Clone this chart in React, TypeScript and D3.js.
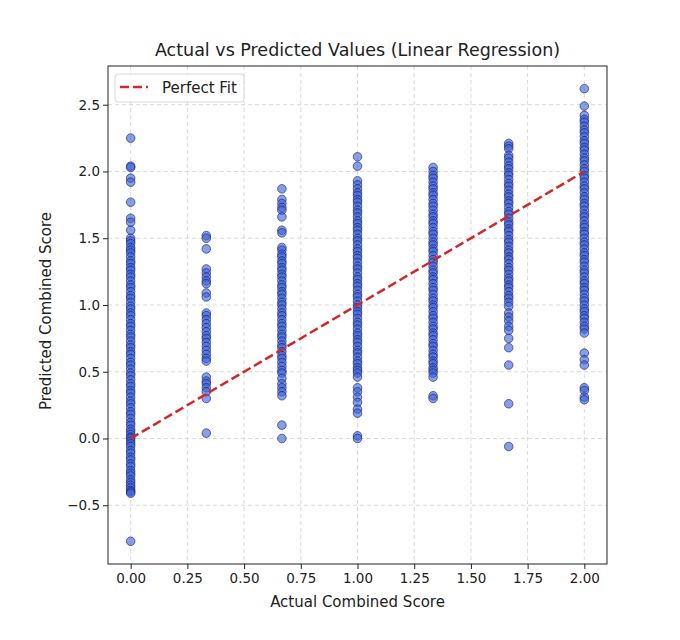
import { useEffect, useRef } from "react";
import * as d3 from "d3";

// actual score levels (x positions of the columns)
const actualLevels = [0, 1 / 3, 2 / 3, 1, 4 / 3, 5 / 3, 2];

// predicted values, top to bottom
const predAt0 = [
  2.25, 2.04, 2.03, 1.95, 1.92, 1.77, 1.65, 1.62, 1.56, 1.5,
  1.48, 1.46, 1.43, 1.41, 1.39, 1.36, 1.33, 1.31, 1.28, 1.26, 1.23, 1.21, 1.18, 1.15, 1.13,
  1.1, 1.07, 1.05, 1.02, 0.99, 0.97, 0.94, 0.92, 0.89, 0.86, 0.84, 0.81, 0.78, 0.76, 0.73,
  0.7, 0.68, 0.65, 0.63, 0.6, 0.57, 0.55, 0.52, 0.49, 0.47, 0.44, 0.41, 0.39, 0.36, 0.34,
  0.31, 0.28, 0.26, 0.23, 0.2, 0.18, 0.15, 0.12, 0.1, 0.07, 0.05, 0.03, 0.01, 0.0, -0.02,
  -0.04, -0.06, -0.09, -0.11, -0.14, -0.16, -0.19, -0.21, -0.24, -0.26, -0.28, -0.31,
  -0.33, -0.35, -0.37, -0.39, -0.4, -0.41, -0.77,
];
const predAt033 = [
  1.52, 1.5, 1.42, 1.27, 1.24, 1.21, 1.18, 1.16, 1.09, 1.06, 0.94, 0.92, 0.89, 0.86, 0.83,
  0.8, 0.77, 0.75, 0.72, 0.69, 0.66, 0.63, 0.6, 0.58, 0.46, 0.43, 0.41, 0.38, 0.35, 0.3, 0.04,
];
const predAt067 = [
  1.87, 1.79, 1.76, 1.73, 1.71, 1.66, 1.56, 1.54,
  1.43, 1.41, 1.38, 1.36, 1.33, 1.31, 1.28, 1.26, 1.23, 1.21, 1.18, 1.15, 1.13, 1.1, 1.08,
  1.05, 1.02, 1.0, 0.97, 0.94, 0.92, 0.89, 0.86, 0.84, 0.81, 0.78, 0.76, 0.73, 0.7, 0.68,
  0.65, 0.62, 0.6, 0.57, 0.54, 0.51, 0.49, 0.45, 0.41, 0.38, 0.35, 0.32, 0.1, 0.0,
];
const predAt1 = [
  2.11, 2.04, 1.93, 1.9, 1.87, 1.84,
  1.82, 1.79, 1.77, 1.74, 1.71, 1.69, 1.66, 1.63, 1.61, 1.58, 1.56, 1.53, 1.5, 1.48, 1.45,
  1.42, 1.4, 1.37, 1.35, 1.32, 1.29, 1.27, 1.24, 1.21, 1.19, 1.16, 1.14, 1.11, 1.08, 1.06,
  1.03, 1.0, 0.98, 0.95, 0.93, 0.9, 0.87, 0.85, 0.82, 0.79, 0.77, 0.74, 0.72, 0.69, 0.66,
  0.64, 0.61, 0.58, 0.56, 0.53, 0.51, 0.49, 0.46, 0.38, 0.35, 0.31, 0.27, 0.22, 0.19, 0.02,
  0.0,
];
const predAt133 = [
  2.03, 2.0, 1.97, 1.95, 1.92, 1.89, 1.87, 1.84, 1.82, 1.79, 1.76, 1.74, 1.71, 1.68, 1.66,
  1.63, 1.61, 1.58, 1.55, 1.53, 1.5, 1.47, 1.45, 1.42, 1.4, 1.37, 1.34, 1.32, 1.29, 1.26,
  1.24, 1.21, 1.19, 1.16, 1.13, 1.11, 1.08, 1.05, 1.03, 1.0, 0.98, 0.95, 0.92, 0.9, 0.87,
  0.84, 0.82, 0.79, 0.77, 0.74, 0.71, 0.69, 0.66, 0.63, 0.61, 0.58, 0.56, 0.53, 0.51, 0.49,
  0.46, 0.32, 0.3,
];
const predAt167 = [
  2.21, 2.19, 2.17, 2.12, 2.1, 2.07, 2.04, 2.02, 1.99, 1.97, 1.94, 1.91, 1.89, 1.86, 1.83,
  1.81, 1.78, 1.76, 1.73, 1.7, 1.68, 1.65, 1.62, 1.6, 1.57, 1.55, 1.52, 1.49, 1.47, 1.44,
  1.41, 1.39, 1.36, 1.34, 1.31, 1.28, 1.26, 1.23, 1.2, 1.18, 1.15, 1.13, 1.1, 1.07, 1.05,
  1.02, 0.99, 0.94, 0.91, 0.88, 0.84, 0.81, 0.75, 0.68, 0.55, 0.26, -0.06,
];
const predAt2 = [
  2.62, 2.49, 2.42, 2.39, 2.37, 2.34, 2.31, 2.29, 2.26, 2.23, 2.21, 2.18, 2.16, 2.13, 2.1,
  2.08, 2.05, 2.02, 2.0, 1.97, 1.95, 1.92, 1.89, 1.87, 1.84, 1.81, 1.79, 1.76, 1.74, 1.71,
  1.68, 1.66, 1.63, 1.6, 1.58, 1.55, 1.53, 1.5, 1.47, 1.45, 1.42, 1.39, 1.37, 1.34, 1.32,
  1.29, 1.26, 1.24, 1.21, 1.18, 1.16, 1.13, 1.11, 1.08, 1.05, 1.03, 1.0, 0.97, 0.95, 0.92,
  0.9, 0.87, 0.84, 0.82, 0.79, 0.64, 0.59, 0.55, 0.38, 0.36, 0.31, 0.29,
];

const predByLevel = [predAt0, predAt033, predAt067, predAt1, predAt133, predAt167, predAt2];

const xTicks = [0, 0.25, 0.5, 0.75, 1, 1.25, 1.5, 1.75, 2];
const yTicks = [-0.5, 0, 0.5, 1, 1.5, 2, 2.5];
const fitLine = [0, 2];

const FONT = "'DejaVu Sans', Verdana, sans-serif";

export default function App() {
  const ref = useRef<SVGSVGElement | null>(null);

  useEffect(() => {
    if (!ref.current) return;
    const W = 680;
    const H = 640;
    const left = 108;
    const right = 607;
    const top = 66;
    const bottom = 564;

    const svg = d3.select(ref.current).html("").attr("width", W).attr("height", H);
    svg.append("rect").attr("width", W).attr("height", H).attr("fill", "#fff");

    const x = d3.scaleLinear().domain([-0.1, 2.1]).range([left, right]);
    const y = d3.scaleLinear().domain([-0.94, 2.79]).range([bottom, top]);

    // grid
    const grid = svg.append("g").attr("stroke", "#cfcfcf").attr("stroke-width", 0.8).attr("stroke-dasharray", "4,3");
    xTicks.forEach((t) => {
      grid.append("line").attr("x1", x(t)).attr("x2", x(t)).attr("y1", top).attr("y2", bottom);
    });
    yTicks.forEach((t) => {
      grid.append("line").attr("y1", y(t)).attr("y2", y(t)).attr("x1", left).attr("x2", right);
    });

    // points
    const points: { a: number; p: number }[] = [];
    actualLevels.forEach((a, i) => predByLevel[i].forEach((p) => points.push({ a, p })));
    svg
      .append("g")
      .selectAll("circle")
      .data(points)
      .join("circle")
      .attr("cx", (d) => x(d.a))
      .attr("cy", (d) => y(d.p))
      .attr("r", 4.3)
      .attr("fill", "#3d63dc")
      .attr("fill-opacity", 0.62)
      .attr("stroke", "#101a5c")
      .attr("stroke-opacity", 0.75)
      .attr("stroke-width", 0.8);

    // perfect fit line
    svg
      .append("line")
      .attr("x1", x(fitLine[0]))
      .attr("y1", y(fitLine[0]))
      .attr("x2", x(fitLine[1]))
      .attr("y2", y(fitLine[1]))
      .attr("stroke", "#d62728")
      .attr("stroke-width", 2.5)
      .attr("stroke-dasharray", "9,4");

    // axes
    const xAxis = svg
      .append("g")
      .attr("transform", `translate(0,${bottom})`)
      .call(d3.axisBottom(x).tickValues(xTicks).tickFormat(d3.format(".2f")).tickSizeOuter(0).tickSize(5).tickPadding(4));
    const yAxis = svg
      .append("g")
      .attr("transform", `translate(${left},0)`)
      .call(d3.axisLeft(y).tickValues(yTicks).tickFormat(d3.format(".1f")).tickSizeOuter(0).tickSize(5).tickPadding(3));
    [xAxis, yAxis].forEach((g) => {
      g.select(".domain").remove();
      g.selectAll("line").attr("stroke", "#222").attr("stroke-width", 1);
      g.selectAll("text").attr("fill", "#222").style("font-family", FONT).style("font-size", "13.5px");
    });

    // frame
    svg
      .append("rect")
      .attr("x", left)
      .attr("y", top)
      .attr("width", right - left)
      .attr("height", bottom - top)
      .attr("fill", "none")
      .attr("stroke", "#222")
      .attr("stroke-width", 1);

    // legend
    const lg = svg.append("g");
    lg.append("rect")
      .attr("x", 115)
      .attr("y", 74)
      .attr("width", 129)
      .attr("height", 28)
      .attr("rx", 3)
      .attr("fill", "#fff")
      .attr("fill-opacity", 0.8)
      .attr("stroke", "#d8d8d8");
    lg.append("line")
      .attr("x1", 120)
      .attr("x2", 148)
      .attr("y1", 87)
      .attr("y2", 87)
      .attr("stroke", "#d62728")
      .attr("stroke-width", 2.5)
      .attr("stroke-dasharray", "9,4");
    lg.append("text")
      .attr("x", 162)
      .attr("y", 92.5)
      .attr("fill", "#222")
      .style("font-family", FONT)
      .style("font-size", "15px")
      .text("Perfect Fit");

    // titles
    svg
      .append("text")
      .attr("x", (left + right) / 2)
      .attr("y", 56)
      .attr("text-anchor", "middle")
      .attr("fill", "#222")
      .style("font-family", FONT)
      .style("font-size", "17.5px")
      .text("Actual vs Predicted Values (Linear Regression)");
    svg
      .append("text")
      .attr("x", (left + right) / 2)
      .attr("y", 607)
      .attr("text-anchor", "middle")
      .attr("fill", "#222")
      .style("font-family", FONT)
      .style("font-size", "15px")
      .text("Actual Combined Score");
    svg
      .append("text")
      .attr("transform", `translate(51,${(top + bottom) / 2 - 4}) rotate(-90)`)
      .attr("text-anchor", "middle")
      .attr("fill", "#222")
      .style("font-family", FONT)
      .style("font-size", "15px")
      .text("Predicted Combined Score");
  }, []);

  return <svg ref={ref} style={{ position: "absolute", left: 0, top: 0 }} />;
}
